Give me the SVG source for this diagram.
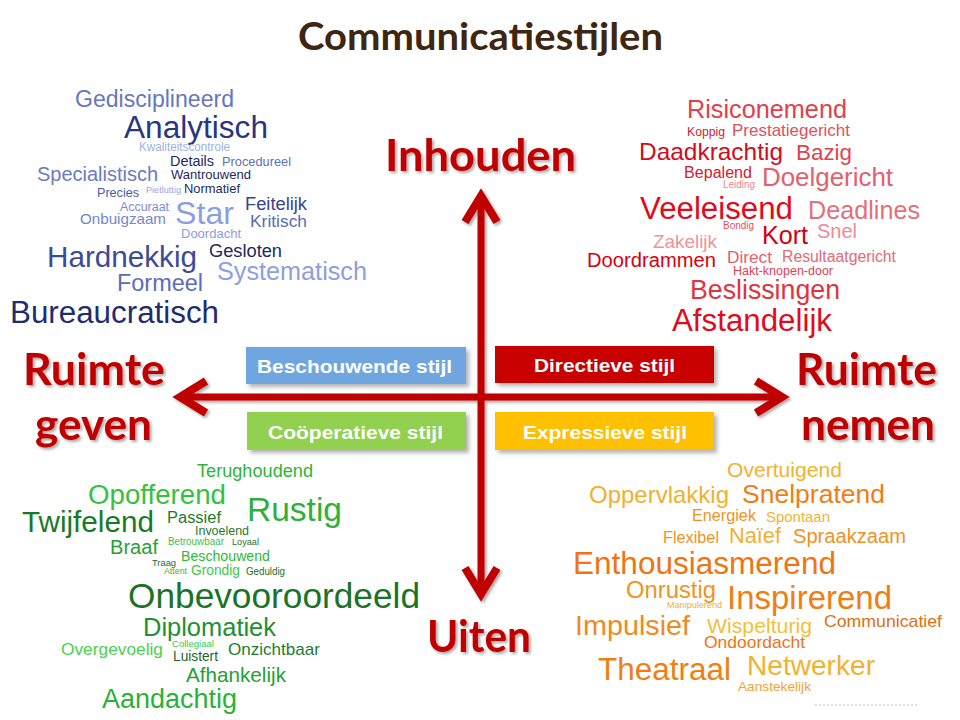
<svg xmlns="http://www.w3.org/2000/svg" width="960" height="720" viewBox="0 0 960 720">
<defs>
<filter id="sh" x="-10%" y="-20%" width="130%" height="150%">
<feDropShadow dx="2" dy="2" stdDeviation="1.5" flood-color="#000" flood-opacity="0.35"/>
</filter>
<filter id="bsh" x="-10%" y="-20%" width="130%" height="160%">
<feDropShadow dx="3" dy="3" stdDeviation="2" flood-color="#000" flood-opacity="0.3"/>
</filter>
<marker id="ah" viewBox="0 0 40 40" markerWidth="40" markerHeight="40" refX="35" refY="20" markerUnits="userSpaceOnUse" orient="auto-start-reverse" overflow="visible">
<path d="M9,4 L35,20 L9,36" fill="none" stroke="#c00000" stroke-width="8" stroke-linejoin="miter" stroke-miterlimit="4"/>
</marker>
</defs>
<style>
.t{font-family:"Liberation Sans",Arial,sans-serif}
.ax{font-family:Lato,"Open Sans",sans-serif;font-weight:bold;font-size:43px;fill:#c00000}
.bx{font-family:"Liberation Sans",Arial,sans-serif;font-weight:bold;font-size:19px;fill:#fff}
.arr{stroke:#c00000;stroke-width:7;fill:none}
</style>
<rect width="960" height="720" fill="#fff"/>

<g id="title">
<text x="298" y="50" font-family="Lato,'Open Sans',sans-serif" font-weight="bold" font-size="38" fill="#3f2612" textLength="365" lengthAdjust="spacingAndGlyphs">Communicatiestijlen</text>
</g>

<g id="connectors" filter="url(#sh)">
<line class="arr" x1="481" y1="196" x2="481" y2="594" marker-start="url(#ah)" marker-end="url(#ah)"/>
<line class="arr" x1="180" y1="397" x2="782" y2="397" marker-start="url(#ah)" marker-end="url(#ah)"/>
</g>

<g id="axis-inhouden" filter="url(#sh)"><text class="ax" x="385" y="171" textLength="191" lengthAdjust="spacingAndGlyphs">Inhouden</text></g>
<g id="axis-uiten" filter="url(#sh)"><text class="ax" x="427" y="652" textLength="104" lengthAdjust="spacingAndGlyphs">Uiten</text></g>
<g id="axis-ruimte-geven" filter="url(#sh)">
<text class="ax" x="23" y="385" textLength="142" lengthAdjust="spacingAndGlyphs">Ruimte</text>
<text class="ax" x="35" y="440" textLength="117" lengthAdjust="spacingAndGlyphs">geven</text>
</g>
<g id="axis-ruimte-nemen" filter="url(#sh)">
<text class="ax" x="796" y="385" textLength="141" lengthAdjust="spacingAndGlyphs">Ruimte</text>
<text class="ax" x="801" y="440" textLength="134" lengthAdjust="spacingAndGlyphs">nemen</text>
</g>

<g id="box-beschouwend">
<rect x="246" y="347" width="220" height="37" fill="#70a6e0" filter="url(#bsh)"/>
<text class="bx" x="257" y="373" textLength="195" lengthAdjust="spacingAndGlyphs">Beschouwende stijl</text>
</g>
<g id="box-directief">
<rect x="495" y="346" width="219" height="37" fill="#c80000" filter="url(#bsh)"/>
<text class="bx" x="534" y="372" textLength="141" lengthAdjust="spacingAndGlyphs">Directieve stijl</text>
</g>
<g id="box-cooperatief">
<rect x="247" y="412" width="219" height="38" fill="#92d050" filter="url(#bsh)"/>
<text class="bx" x="268" y="439" textLength="175" lengthAdjust="spacingAndGlyphs">Coöperatieve stijl</text>
</g>
<g id="box-expressief">
<rect x="495" y="412" width="219" height="38" fill="#ffc000" filter="url(#bsh)"/>
<text class="bx" x="523" y="439" textLength="164" lengthAdjust="spacingAndGlyphs">Expressieve stijl</text>
</g>

<g id="cloud-beschouwend" class="t">
<text x="75" y="107" font-size="23" fill="#6677bb" textLength="159" lengthAdjust="spacingAndGlyphs">Gedisciplineerd</text>
<text x="124" y="138" font-size="31" fill="#27367f" textLength="144" lengthAdjust="spacingAndGlyphs">Analytisch</text>
<text x="139" y="151" font-size="12" fill="#9fb0e3" textLength="91" lengthAdjust="spacingAndGlyphs">Kwaliteitscontrole</text>
<text x="170" y="166" font-size="14" fill="#1e2a68" textLength="44" lengthAdjust="spacingAndGlyphs">Details</text>
<text x="222" y="166" font-size="13" fill="#5f70b8" textLength="69" lengthAdjust="spacingAndGlyphs">Procedureel</text>
<text x="37" y="181" font-size="20" fill="#6a7bc0" textLength="121" lengthAdjust="spacingAndGlyphs">Specialistisch</text>
<text x="171" y="179" font-size="13" fill="#1e2a68" textLength="80" lengthAdjust="spacingAndGlyphs">Wantrouwend</text>
<text x="97" y="197" font-size="13" fill="#4a5ca6" textLength="42" lengthAdjust="spacingAndGlyphs">Precies</text>
<text x="146" y="193" font-size="9" fill="#97a8e0" textLength="35" lengthAdjust="spacingAndGlyphs">Pietluttig</text>
<text x="184" y="193" font-size="13" fill="#1e2a68" textLength="56" lengthAdjust="spacingAndGlyphs">Normatief</text>
<text x="120" y="211" font-size="12" fill="#7b8dd3" textLength="49" lengthAdjust="spacingAndGlyphs">Accuraat</text>
<text x="175" y="224" font-size="32" fill="#8c9ee2" textLength="59" lengthAdjust="spacingAndGlyphs">Star</text>
<text x="245" y="210" font-size="18" fill="#35458e" textLength="62" lengthAdjust="spacingAndGlyphs">Feitelijk</text>
<text x="80" y="224" font-size="15" fill="#7486cb" textLength="86" lengthAdjust="spacingAndGlyphs">Onbuigzaam</text>
<text x="250" y="227" font-size="17" fill="#5a6bb5" textLength="57" lengthAdjust="spacingAndGlyphs">Kritisch</text>
<text x="181" y="238" font-size="13" fill="#8c9edf" textLength="60" lengthAdjust="spacingAndGlyphs">Doordacht</text>
<text x="47" y="267" font-size="29" fill="#3b4b96" textLength="150" lengthAdjust="spacingAndGlyphs">Hardnekkig</text>
<text x="209" y="257" font-size="18" fill="#1c275f" textLength="73" lengthAdjust="spacingAndGlyphs">Gesloten</text>
<text x="217" y="280" font-size="25" fill="#8d9fe0" textLength="150" lengthAdjust="spacingAndGlyphs">Systematisch</text>
<text x="117" y="291" font-size="23" fill="#5b6db8" textLength="86" lengthAdjust="spacingAndGlyphs">Formeel</text>
<text x="10" y="323" font-size="31" fill="#1f2d6e" textLength="209" lengthAdjust="spacingAndGlyphs">Bureaucratisch</text>
</g>

<g id="cloud-directief" class="t">
<text x="687" y="118" font-size="25" fill="#e2404c" textLength="160" lengthAdjust="spacingAndGlyphs">Risiconemend</text>
<text x="687" y="136" font-size="12" fill="#d42232" textLength="38" lengthAdjust="spacingAndGlyphs">Koppig</text>
<text x="732" y="136" font-size="17" fill="#e0505e" textLength="118" lengthAdjust="spacingAndGlyphs">Prestatiegericht</text>
<text x="639" y="160" font-size="24" fill="#d30a1c" textLength="144" lengthAdjust="spacingAndGlyphs">Daadkrachtig</text>
<text x="796" y="160" font-size="22" fill="#e2444f" textLength="56" lengthAdjust="spacingAndGlyphs">Bazig</text>
<text x="684" y="178" font-size="16" fill="#d42232" textLength="68" lengthAdjust="spacingAndGlyphs">Bepalend</text>
<text x="723" y="188" font-size="10" fill="#f08592" textLength="32" lengthAdjust="spacingAndGlyphs">Leiding</text>
<text x="762" y="186" font-size="26" fill="#e4606c" textLength="131" lengthAdjust="spacingAndGlyphs">Doelgericht</text>
<text x="640" y="219" font-size="31" fill="#e00a1a" textLength="153" lengthAdjust="spacingAndGlyphs">Veeleisend</text>
<text x="808" y="219" font-size="25" fill="#e56f7a" textLength="112" lengthAdjust="spacingAndGlyphs">Deadlines</text>
<text x="723" y="229" font-size="10" fill="#e55060" textLength="31" lengthAdjust="spacingAndGlyphs">Bondig</text>
<text x="762" y="244" font-size="25" fill="#d2000e" textLength="46" lengthAdjust="spacingAndGlyphs">Kort</text>
<text x="817" y="238" font-size="20" fill="#ef8a94" textLength="40" lengthAdjust="spacingAndGlyphs">Snel</text>
<text x="653" y="248" font-size="19" fill="#f0939c" textLength="64" lengthAdjust="spacingAndGlyphs">Zakelijk</text>
<text x="587" y="267" font-size="20" fill="#d8000f" textLength="129" lengthAdjust="spacingAndGlyphs">Doordrammen</text>
<text x="727" y="263" font-size="17" fill="#e4606c" textLength="45" lengthAdjust="spacingAndGlyphs">Direct</text>
<text x="782" y="262" font-size="16" fill="#e56a76" textLength="114" lengthAdjust="spacingAndGlyphs">Resultaatgericht</text>
<text x="733" y="275" font-size="13" fill="#e3404e" textLength="100" lengthAdjust="spacingAndGlyphs">Hakt-knopen-door</text>
<text x="690" y="299" font-size="27" fill="#e03342" textLength="150" lengthAdjust="spacingAndGlyphs">Beslissingen</text>
<text x="672" y="331" font-size="31" fill="#e00b1c" textLength="160" lengthAdjust="spacingAndGlyphs">Afstandelijk</text>
</g>

<g id="cloud-cooperatief" class="t">
<text x="197" y="477" font-size="18" fill="#2db536" textLength="116" lengthAdjust="spacingAndGlyphs">Terughoudend</text>
<text x="88" y="504" font-size="27" fill="#33c23d" textLength="138" lengthAdjust="spacingAndGlyphs">Opofferend</text>
<text x="247" y="521" font-size="33" fill="#2eb03a" textLength="95" lengthAdjust="spacingAndGlyphs">Rustig</text>
<text x="22" y="532" font-size="29" fill="#177a27" textLength="132" lengthAdjust="spacingAndGlyphs">Twijfelend</text>
<text x="167" y="523" font-size="16" fill="#1f7a2e" textLength="54" lengthAdjust="spacingAndGlyphs">Passief</text>
<text x="195" y="535" font-size="13" fill="#1e7a30" textLength="54" lengthAdjust="spacingAndGlyphs">Invoelend</text>
<text x="110" y="554" font-size="20" fill="#27a035" textLength="48" lengthAdjust="spacingAndGlyphs">Braaf</text>
<text x="168" y="545" font-size="10" fill="#3fc24a" textLength="56" lengthAdjust="spacingAndGlyphs">Betrouwbaar</text>
<text x="232" y="545" font-size="9" fill="#1f6e2c" textLength="27" lengthAdjust="spacingAndGlyphs">Loyaal</text>
<text x="181" y="561" font-size="14" fill="#30b83b" textLength="89" lengthAdjust="spacingAndGlyphs">Beschouwend</text>
<text x="152" y="566" font-size="9" fill="#1f6a2c" textLength="24" lengthAdjust="spacingAndGlyphs">Traag</text>
<text x="164" y="574" font-size="9" fill="#33b83d" textLength="23" lengthAdjust="spacingAndGlyphs">Attent</text>
<text x="191" y="575" font-size="15" fill="#3fc84a" textLength="49" lengthAdjust="spacingAndGlyphs">Grondig</text>
<text x="246" y="575" font-size="10" fill="#1f6e2c" textLength="39" lengthAdjust="spacingAndGlyphs">Geduldig</text>
<text x="128" y="608" font-size="35" fill="#1b7328" textLength="292" lengthAdjust="spacingAndGlyphs">Onbevooroordeeld</text>
<text x="143" y="636" font-size="25" fill="#229032" textLength="133" lengthAdjust="spacingAndGlyphs">Diplomatiek</text>
<text x="61" y="655" font-size="17" fill="#4cd051" textLength="102" lengthAdjust="spacingAndGlyphs">Overgevoelig</text>
<text x="172" y="647" font-size="9" fill="#40c84a" textLength="42" lengthAdjust="spacingAndGlyphs">Collegiaal</text>
<text x="173" y="661" font-size="14" fill="#1a6628" textLength="45" lengthAdjust="spacingAndGlyphs">Luistert</text>
<text x="228" y="655" font-size="17" fill="#1f7c2e" textLength="92" lengthAdjust="spacingAndGlyphs">Onzichtbaar</text>
<text x="186" y="682" font-size="21" fill="#25a033" textLength="100" lengthAdjust="spacingAndGlyphs">Afhankelijk</text>
<text x="102" y="708" font-size="27" fill="#2cb138" textLength="135" lengthAdjust="spacingAndGlyphs">Aandachtig</text>
</g>

<g id="cloud-expressief" class="t">
<text x="727" y="477" font-size="21" fill="#f2b230" textLength="115" lengthAdjust="spacingAndGlyphs">Overtuigend</text>
<text x="589" y="503" font-size="24" fill="#f0b12e" textLength="140" lengthAdjust="spacingAndGlyphs">Oppervlakkig</text>
<text x="742" y="503" font-size="26" fill="#f07e12" textLength="143" lengthAdjust="spacingAndGlyphs">Snelpratend</text>
<text x="692" y="521" font-size="16" fill="#f0931f" textLength="64" lengthAdjust="spacingAndGlyphs">Energiek</text>
<text x="766" y="522" font-size="15" fill="#f2b42e" textLength="64" lengthAdjust="spacingAndGlyphs">Spontaan</text>
<text x="663" y="543" font-size="16" fill="#f0921f" textLength="56" lengthAdjust="spacingAndGlyphs">Flexibel</text>
<text x="729" y="543" font-size="22" fill="#f2b02e" textLength="52" lengthAdjust="spacingAndGlyphs">Naïef</text>
<text x="793" y="543" font-size="20" fill="#f0921f" textLength="113" lengthAdjust="spacingAndGlyphs">Spraakzaam</text>
<text x="573" y="574" font-size="31" fill="#f07412" textLength="263" lengthAdjust="spacingAndGlyphs">Enthousiasmerend</text>
<text x="626" y="598" font-size="23" fill="#f09422" textLength="90" lengthAdjust="spacingAndGlyphs">Onrustig</text>
<text x="667" y="608" font-size="9" fill="#f2b030" textLength="55" lengthAdjust="spacingAndGlyphs">Manipulerend</text>
<text x="727" y="609" font-size="33" fill="#f07e12" textLength="165" lengthAdjust="spacingAndGlyphs">Inspirerend</text>
<text x="575" y="635" font-size="28" fill="#f08a1e" textLength="115" lengthAdjust="spacingAndGlyphs">Impulsief</text>
<text x="707" y="633" font-size="21" fill="#f2c03a" textLength="105" lengthAdjust="spacingAndGlyphs">Wispelturig</text>
<text x="824" y="627" font-size="17" fill="#e0700f" textLength="118" lengthAdjust="spacingAndGlyphs">Communicatief</text>
<text x="704" y="648" font-size="17" fill="#f07412" textLength="101" lengthAdjust="spacingAndGlyphs">Ondoordacht</text>
<text x="598" y="680" font-size="31" fill="#f07e12" textLength="133" lengthAdjust="spacingAndGlyphs">Theatraal</text>
<text x="747" y="675" font-size="28" fill="#f2b230" textLength="128" lengthAdjust="spacingAndGlyphs">Netwerker</text>
<text x="738" y="691" font-size="13" fill="#f0a530" textLength="73" lengthAdjust="spacingAndGlyphs">Aanstekelijk</text>
</g>

<line x1="815" y1="705" x2="918" y2="705" stroke="#bbb" stroke-width="1" stroke-dasharray="2 2"/>
</svg>
